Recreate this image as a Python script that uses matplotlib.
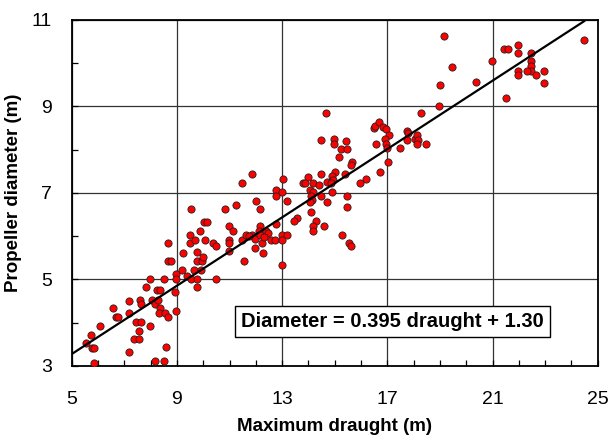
import numpy as np
import matplotlib
matplotlib.use("Agg")
import matplotlib.pyplot as plt
from matplotlib.ticker import MultipleLocator

# ---- data ----
draught = [
    5.54, 5.72, 5.76, 5.86, 5.86, 6.09, 6.56, 6.67, 6.75, 7.17, 7.17, 7.17,
    7.36, 7.57, 7.57, 7.45, 7.65, 7.60, 7.65, 7.83, 7.97, 7.98, 8.04, 8.17,
    8.26, 8.35, 8.30, 8.35, 8.31, 8.52, 8.56, 8.65, 8.59, 8.18, 8.51, 8.65,
    8.65, 8.76, 8.95, 8.95, 8.94, 8.95, 9.52, 9.22, 9.18, 9.37, 9.49, 9.49,
    9.70, 9.77, 9.77, 9.89, 9.96, 9.98, 9.65, 9.54, 9.77, 9.77, 9.92, 10.07,
    10.04, 10.16, 10.37, 10.48, 10.48,
    10.84, 11.25, 12.01, 12.16, 12.76, 12.76, 12.99, 13.20, 10.97, 11.15,
    10.97, 10.97, 10.97, 11.48, 11.63, 11.84, 11.97, 12.16, 12.13, 12.16,
    12.22, 12.39, 12.48, 12.58, 12.77, 12.73, 12.98, 13.17, 12.98, 11.97,
    12.26, 11.55, 12.98, 11.48, 11.84, 11.75, 12.30,
    14.47, 14.99, 14.99, 15.41, 15.23, 15.48, 15.18, 15.66, 15.61, 16.19,
    15.96, 13.05, 14.48, 13.98, 15.01, 14.89, 14.95, 14.70, 15.38, 13.81,
    13.87, 14.19, 14.40, 14.86, 14.06, 14.19, 14.09, 14.47, 14.89, 15.46,
    14.13, 14.70, 14.06, 15.48, 14.09, 13.55, 13.45, 14.29, 14.19, 14.61,
    14.16, 15.27, 15.56, 15.61, 14.66,
    16.48, 16.53, 16.70, 16.83, 16.94, 17.07, 16.90, 16.93, 16.97, 16.56,
    17.04, 16.72,
    17.48, 17.74, 17.80, 17.76, 18.06, 18.14, 18.18, 18.12, 18.46, 18.27,
    18.96, 19.01, 19.16, 19.45, 20.37, 20.98, 21.50, 21.45, 21.58, 21.96,
    21.96, 22.47, 22.47, 22.47, 22.47, 22.30, 21.96, 21.96, 22.66, 22.95,
    22.95, 24.48,
]
diameter = [
    3.52, 3.72, 3.42, 3.42, 3.06, 3.92, 4.33, 4.13, 4.13, 4.51, 4.22, 3.32,
    3.63, 3.63, 3.82, 4.01, 4.01, 4.53, 4.43, 4.83, 3.92, 5.01, 4.53, 4.43,
    4.76, 4.76, 4.53, 4.33, 4.22, 5.01, 4.22, 4.13, 3.43, 3.11, 3.11, 5.84,
    5.43, 5.43, 5.12, 5.01, 4.71, 4.26, 6.62, 5.60, 5.22, 5.07, 6.03, 5.84,
    5.91, 5.63, 5.43, 6.12, 5.43, 5.53, 5.22, 5.01, 5.01, 4.83, 5.22, 5.91,
    6.33, 6.33, 5.84, 5.78, 5.01,
    6.62, 6.72, 6.82, 6.62, 7.07, 6.93, 7.03, 6.82, 6.24, 6.13,
    5.91, 5.84, 5.66, 5.91, 6.03, 6.03, 5.93, 6.24, 6.13, 6.03,
    5.84, 6.13, 6.07, 5.91, 6.28, 5.91, 6.03, 6.03, 5.91, 5.72,
    5.62, 5.43, 5.34, 7.24, 7.44, 6.00, 5.97,
    8.23, 8.25, 8.13, 8.19, 8.02, 8.02, 7.82, 7.72, 7.65, 7.32,
    7.24, 7.32, 7.44, 7.36, 7.49, 7.38, 7.29, 7.26, 7.44, 7.24,
    7.24, 7.24, 7.18, 7.22, 7.07, 7.03, 6.94, 6.93, 7.03, 6.93,
    6.84, 6.78, 6.78, 6.68, 6.55, 6.41, 6.34, 6.34, 6.24, 6.24,
    6.13, 6.03, 5.84, 5.78, 8.84,
    8.50, 8.54, 8.63, 8.52, 8.47, 8.34, 8.24, 8.14, 8.03, 8.13,
    7.72, 7.49,
    8.03, 8.44, 8.38, 8.23, 8.24, 8.34, 8.23, 8.13, 8.13, 8.84,
    9.01, 9.50, 10.63, 9.92, 9.56, 10.04, 9.20, 10.33, 10.33, 10.42,
    10.24, 10.24, 10.04, 9.94, 9.83, 9.83, 9.83, 9.72, 9.72, 9.83,
    9.55, 10.54,
]
slope = 0.395
intercept = 1.30
x_ticks = [5, 9, 13, 17, 21, 25]
y_ticks = [3, 5, 7, 9, 11]
x_label = "Maximum draught (m)"
y_label = "Propeller diameter (m)"
eq_text = "Diameter = 0.395 draught + 1.30"

plt.rcParams['font.family'] = ['Liberation Sans', 'DejaVu Sans']

fig = plt.figure(figsize=(6.10, 4.42), dpi=100)
ax = fig.add_axes([0.1175, 0.172, 0.8625, 0.783])

x_lo, x_hi = x_ticks[0], x_ticks[-1]
ax.set_xlim(x_lo, x_hi)
ax.set_ylim(y_ticks[0], y_ticks[-1])
ax.set_xticks(x_ticks)
ax.set_yticks(y_ticks)
ax.xaxis.set_minor_locator(MultipleLocator(1))
ax.yaxis.set_minor_locator(MultipleLocator(1))
ax.grid(True, which='major', color='#333333', linewidth=0.9, zorder=0)
ax.set_axisbelow(True)

ax.tick_params(which='both', direction='in', length=4, width=0.9,
               top=False, right=False)
ax.tick_params(axis='x', which='major', labelsize=14, pad=18)
ax.tick_params(axis='y', which='major', labelsize=14, pad=14)
for sp in ax.spines.values():
    sp.set_linewidth(1.3)
    sp.set_color('black')

ax.scatter(draught, diameter, s=27, c='#ff0000', edgecolors='#222222',
           linewidths=0.6, zorder=3)

fx = np.array([x_lo, max(draught)])
ax.plot(fx, slope * fx + intercept, color='black', linewidth=1.6, zorder=4)

ax.text(0.609, 0.128, eq_text, transform=ax.transAxes, ha='center',
        va='center', fontsize=14.5, fontweight='bold', zorder=5,
        bbox=dict(boxstyle='square,pad=0.3', facecolor='white',
                  edgecolor='black', linewidth=1.0))

ax.set_xlabel(x_label, fontsize=13.5, fontweight='bold', labelpad=7)
ax.set_ylabel(y_label, fontsize=13.5, fontweight='bold', labelpad=7)

fig.savefig("out.png", dpi=100)
